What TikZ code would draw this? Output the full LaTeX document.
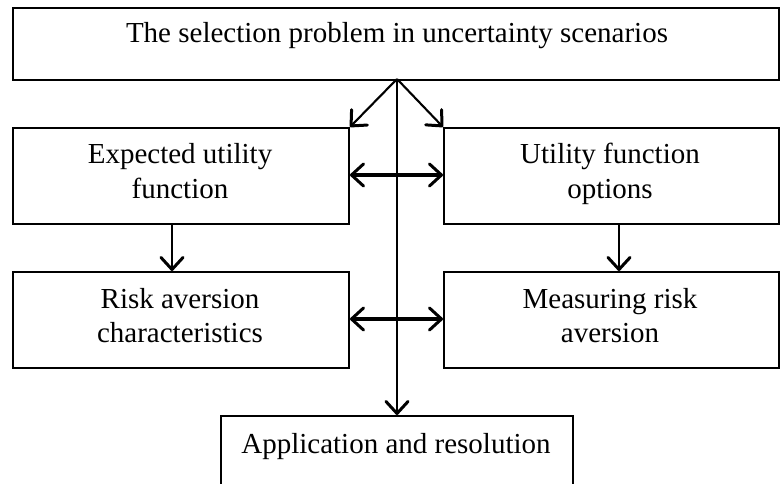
\documentclass[tikz,border=0pt]{standalone}
\usepackage{fontspec}
\setmainfont{Liberation Serif}
\usetikzlibrary{positioning,arrows.meta}

\begin{document}
\begin{tikzpicture}[x=1pt,y=-1pt,>={Straight Barb[length=12pt,width=22pt,line width=3pt,round]},line width=2.1pt]
\tikzstyle{box}=[draw,line width=2pt,inner sep=0pt,anchor=north west]
\tikzstyle{txt}=[align=center,anchor=base,inner sep=0pt,font=\fontsize{29}{35}\selectfont]
\useasboundingbox (0,0) rectangle (784,484);
% boxes
\node[box,minimum width=766pt,minimum height=72pt] (sel) at (12,7) {};
\node[box,minimum width=336pt,minimum height=96pt] (exp) at (12,127) {};
\node[box,minimum width=335pt,minimum height=96pt] (opt) at (443,127) {};
\node[box,minimum width=336pt,minimum height=96pt] (risk) at (12,271) {};
\node[box,minimum width=335pt,minimum height=96pt] (meas) at (443,271) {};
\node[box,minimum width=352pt,minimum height=90pt] (app) at (220,415) {};
% texts
\node[txt] (selt) at (397,43) {The selection problem in uncertainty scenarios};
\node[txt] (expt) at (180,163) {Expected utility};
\node[txt] (expt2) at (180,198) {function};
\node[txt] (optt) at (610,163) {Utility function};
\node[txt] (optt2) at (610,198) {options};
\node[txt] (riskt) at (180,308) {Risk aversion};
\node[txt] (riskt2) at (180,342) {characteristics};
\node[txt] (meast) at (610,308) {Measuring risk};
\node[txt] (meast2) at (610,342) {aversion};
\node[txt] (appt) at (396,453) {Application and resolution};
% connectors
\coordinate (hub) at (397,79);
\draw[->] (hub) -- (exp.north east);
\draw[->] (hub) -- (opt.north west);
\draw[->] (hub) -- (app.north -| hub);
\draw[->] (exp.south -| 172,0) -- (risk.north -| 172,0);
\draw[->] (opt.south -| 619,0) -- (meas.north -| 619,0);
\draw[<->,line width=3.2pt] (exp.east |- 0,175) -- (opt.west |- 0,175);
\draw[<->,line width=3.2pt] (risk.east |- 0,319) -- (meas.west |- 0,319);
\end{tikzpicture}
\end{document}
